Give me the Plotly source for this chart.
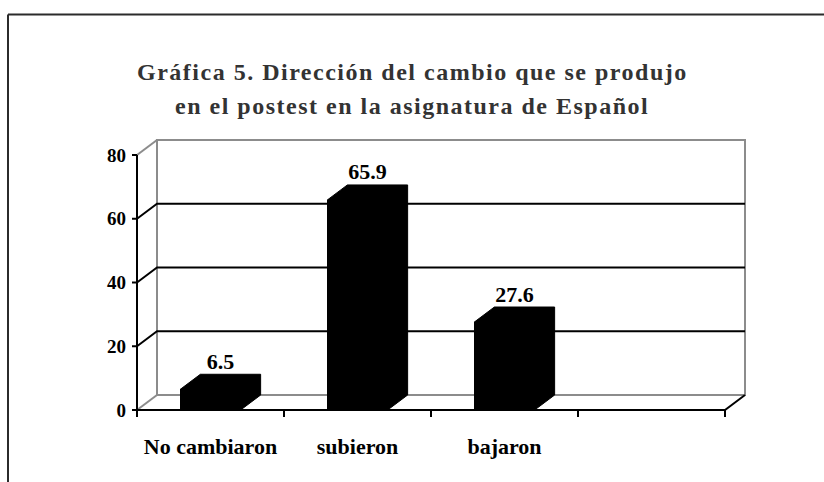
import plotly.graph_objects as go

# ---------------- data ----------------
categories = ["No cambiaron", "subieron", "bajaron", ""]
values = [6.5, 65.9, 27.6]
value_labels = ["6.5", "65.9", "27.6"]
y_ticks = [0, 20, 40, 60, 80]
y_tick_labels = ["0", "20", "40", "60", "80"]
title_lines = ["Gráfica 5. Dirección del cambio que se produjo",
               "en el postest en la asignatura de Español"]

# ---------------- geometry (pixels) ----------------
W, H = 824, 482
FRONT_LEFT, FRONT_RIGHT = 137, 725
FRONT_ZERO, FRONT_TOP = 410, 155          # y pixel of 0 and of max tick
DEPTH_X, DEPTH_Y = 20, 15                 # 3-D depth offset in pixels
PAD_L, PAD_R, PAD_T, PAD_B = 10, 4, 4, 9
BAR_WIDTH = 0.41

n = len(categories)
ymax = y_ticks[-1]
px_cat = (FRONT_RIGHT - FRONT_LEFT) / n
px_unit = (FRONT_ZERO - FRONT_TOP) / ymax
DX = DEPTH_X / px_cat
DY = DEPTH_Y / px_unit

x_lo = -0.5 - PAD_L / px_cat
x_hi = n - 0.5 + DX + PAD_R / px_cat
y_lo = -PAD_B / px_unit
y_hi = ymax + DY + PAD_T / px_unit

m_l = FRONT_LEFT - PAD_L
m_r = W - (FRONT_RIGHT + DEPTH_X + PAD_R)
m_t = FRONT_TOP - DEPTH_Y - PAD_T
m_b = H - (FRONT_ZERO + PAD_B)
plot_w = W - m_l - m_r
plot_h = H - m_t - m_b


def px_to_paper_x(px):
    return (px - m_l) / plot_w


def px_to_paper_y(py):
    return (H - m_b - py) / plot_h


GRAY = "#8c8c8c"
BLACK = "#000000"
FONT = "Liberation Serif"

fig = go.Figure()
shapes = []

# back wall outline and left wall edges (gray)
xl, xr = -0.5, n - 0.5
wall_path = (f"M {xl + DX},{DY} L {xl + DX},{ymax + DY} L {xr + DX},{ymax + DY} "
             f"L {xr + DX},{DY} Z")
shapes.append(dict(type="path", path=wall_path, xref="x", yref="y",
                   line=dict(color=GRAY, width=2), layer="below"))
for t in (y_ticks[0], y_ticks[-1]):
    shapes.append(dict(type="line", xref="x", yref="y", x0=xl, y0=t,
                       x1=xl + DX, y1=t + DY, line=dict(color=GRAY, width=2),
                       layer="below"))
# gridlines (black) on left wall and back wall
for t in y_ticks[1:-1]:
    shapes.append(dict(type="path", xref="x", yref="y",
                       path=f"M {xl},{t} L {xl + DX},{t + DY} L {xr + DX},{t + DY}",
                       line=dict(color=BLACK, width=2), layer="below"))

# bars: front faces
xs = list(range(len(values)))
fig.add_trace(go.Bar(x=xs, y=values, width=BAR_WIDTH,
                     marker=dict(color=BLACK, line=dict(width=0)),
                     hoverinfo="skip", showlegend=False))

# bars: top and side faces (3-D extrusion)
for i, v in enumerate(values):
    x0, x1 = i - BAR_WIDTH / 2, i + BAR_WIDTH / 2
    px = [x0, x1, x1, x1 + DX, x1 + DX, x0 + DX, x0]
    py = [v, v, 0, DY, v + DY, v + DY, v]
    fig.add_trace(go.Scatter(x=px, y=py, mode="lines", fill="toself",
                             fillcolor=BLACK, line=dict(color=BLACK, width=1),
                             hoverinfo="skip", showlegend=False))

# value labels
fig.add_trace(go.Scatter(x=[i + DX / 2 for i in xs],
                         y=[v + DY for v in values],
                         mode="text", text=[f"<b>{t}</b>" for t in value_labels],
                         textposition="top center",
                         textfont=dict(family=FONT, size=22, color=BLACK),
                         cliponaxis=False, hoverinfo="skip", showlegend=False))

# front y axis line and ticks
ax_x, ax_y = [xl, xl], [y_ticks[0], ymax]
for t in y_ticks:
    ax_x += [None, xl - 5 / px_cat, xl]
    ax_y += [None, t, t]
fig.add_trace(go.Scatter(x=ax_x, y=ax_y, mode="lines",
                         line=dict(color=BLACK, width=2),
                         hoverinfo="skip", showlegend=False))

# front floor line, right floor edge and category boundary ticks
fl_x = [xl, xr, xr + DX]
fl_y = [0, 0, DY]
for k in range(n + 1):
    b = -0.5 + k
    fl_x += [None, b, b]
    fl_y += [None, 0, -7 / px_unit]
fig.add_trace(go.Scatter(x=fl_x, y=fl_y, mode="lines",
                         line=dict(color=BLACK, width=2),
                         hoverinfo="skip", showlegend=False))

# outer frame (top and left edges)
shapes.append(dict(type="line", xref="paper", yref="paper",
                   x0=px_to_paper_x(8), y0=px_to_paper_y(14.5),
                   x1=px_to_paper_x(W + 2), y1=px_to_paper_y(14.5),
                   line=dict(color="#2b2b2b", width=2)))
shapes.append(dict(type="line", xref="paper", yref="paper",
                   x0=px_to_paper_x(8), y0=px_to_paper_y(14.5),
                   x1=px_to_paper_x(8), y1=px_to_paper_y(H + 2),
                   line=dict(color="#2b2b2b", width=2)))

annotations = []
for line, ypx in zip(title_lines, (72, 106)):
    annotations.append(dict(
        text=(f'<span style="letter-spacing:1.5px;font-family:\'{FONT}\';'
              f'font-weight:bold">{line}</span>'),
        xref="paper", yref="paper", x=px_to_paper_x(412), y=px_to_paper_y(ypx),
        xanchor="center", yanchor="middle", showarrow=False,
        font=dict(family=FONT, size=24, color="#333333")))

fig.update_layout(
    width=W, height=H,
    margin=dict(l=m_l, r=m_r, t=m_t, b=m_b, pad=0),
    paper_bgcolor="white", plot_bgcolor="white",
    shapes=shapes, annotations=annotations,
    bargap=0,
    xaxis=dict(range=[x_lo, x_hi], tickmode="array", tickvals=list(range(n)),
               ticktext=[f"<b>{c}</b>" if c else "" for c in categories],
               ticks="outside", ticklen=8, tickcolor="rgba(0,0,0,0)",
               showgrid=False, zeroline=False, showline=False,
               tickfont=dict(family=FONT, size=22, color=BLACK), fixedrange=True),
    yaxis=dict(range=[y_lo, y_hi], tickmode="array", tickvals=y_ticks,
               ticktext=[f"<b>{t}</b>" for t in y_tick_labels],
               ticks="", showgrid=False, zeroline=False, showline=False,
               tickfont=dict(family=FONT, size=19, color=BLACK), fixedrange=True),
    font=dict(family=FONT),
)

fig.write_html("out.html", post_script="document.body.style.margin='0px';",
               config={"displayModeBar": False})
